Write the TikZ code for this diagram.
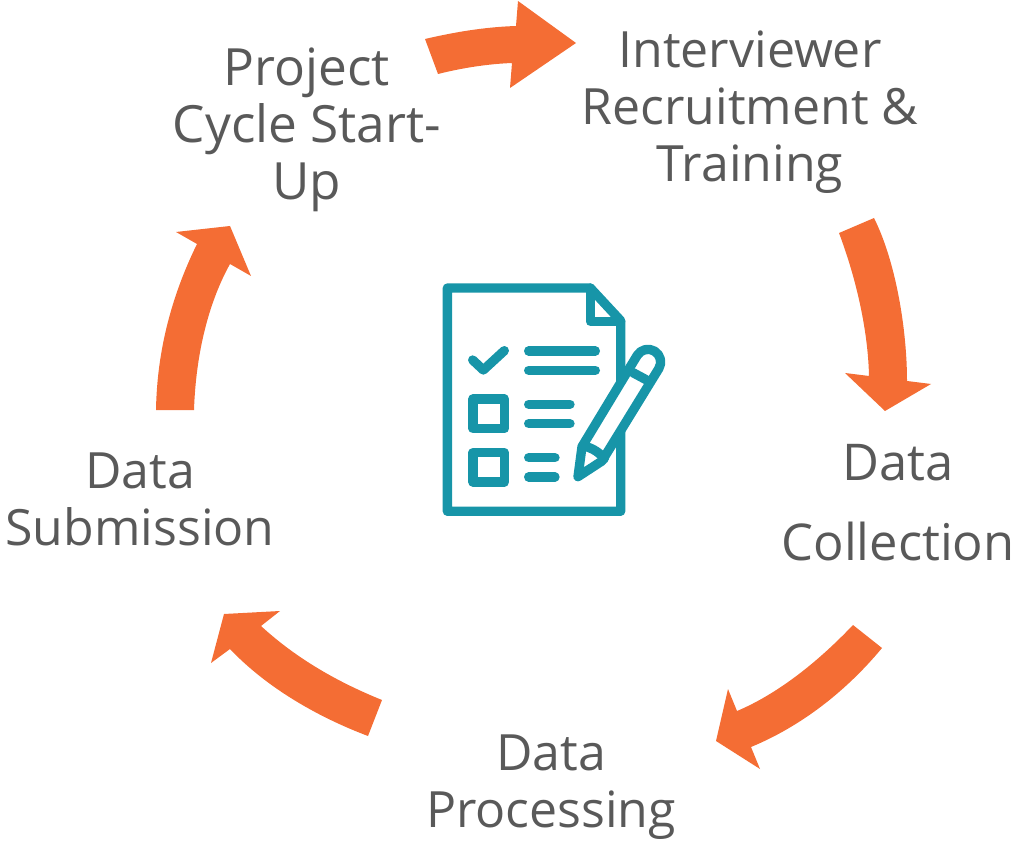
\documentclass[tikz,border=0pt]{standalone}
\usepackage{fontspec}
\setmainfont{Open Sans}
\usepackage{xcolor}
\definecolor{cyclearrow}{RGB}{244, 109, 52}
\definecolor{icon}{RGB}{23, 149, 168}
\definecolor{steptext}{RGB}{89, 89, 89}
\usepackage{tikz}
\tikzstyle{turn} = [fill=cyclearrow,draw=none]
\tikzstyle{steplabel} = [text=steptext,align=center,inner sep=0pt,font=\fontsize{37.5}{42.75}\selectfont]
\tikzstyle{stroke} = [draw=icon,line width=7pt,line cap=round,line join=round]

\begin{document}
\begin{tikzpicture}[x=0.75pt,y=-0.75pt]
    \useasboundingbox (0,0) rectangle (1017,841);
    \path[turn] (425,39) .. controls (455,32) and (485,27) .. (516,26) -- (518,1) -- (576,43) -- (510,88) -- (512,63) .. controls (487,64) and (462,68) .. (438,74) -- cycle;
    \path[turn] (874,218) .. controls (896,262) and (907,330) .. (907,381) -- (931,384) -- (885,411) -- (845,373) -- (869,376) .. controls (868,330) and (856,278) .. (839,233) -- cycle;
    \path[turn] (882,648) .. controls (843,695) and (797,728) .. (751,747) -- (760,769) -- (716,741) -- (728,689) -- (737,711) .. controls (775,695) and (815,665) .. (853,625) -- cycle;
    \path[turn] (368,736) .. controls (315,716) and (265,686) .. (230,649) -- (211,663) -- (224,614) -- (280,611) -- (261,626) .. controls (298,660) and (340,683) .. (382,700) -- cycle;
    \path[turn] (156,410) .. controls (157,350) and (172,295) .. (197,244) -- (176,232) -- (230,226) -- (251,276) -- (230,264) .. controls (210,300) and (196,350) .. (194,410) -- cycle;
    \node[steplabel,font=\fontsize{38.5}{42.75}\selectfont] (startup) at (307,130) {Project\\Cycle Start-\\Up};
    \node[steplabel] (training) at (750,112) {Interviewer\\Recruitment \&\\Training};
    \node[steplabel,font=\fontsize{38}{60}\selectfont] (collection) at (898,503) {Data\\Collection};
    \node[steplabel] (processing) at (551,787.5) {Data\\Processing};
    \node[steplabel] (submission) at (140,499) {Data\\Submission};
    \begin{scope}[shift={(420,270)},scale=1/3]
        \path[stroke] (511,54) -- (82,54) -- (82,724) -- (602,724) -- (602,152) -- cycle;
        \path[stroke] (511,54) -- (511,154) -- (602,154);
        \path[stroke] (158,270) -- (190,300) -- (253,242);
        \foreach \y in {243,301} {
            \path[stroke] (326,\y) -- (526,\y);
        }
        \foreach \y in {403,461} {
            \path[stroke] (326,\y) -- (450,\y);
        }
        \foreach \y in {563,621} {
            \path[stroke] (326,\y) -- (405,\y);
        }
        \path[stroke] (159,387) rectangle (253,476);
        \path[stroke] (159,548) rectangle (253,636);
        \path[stroke,fill=white] (474,620) -- (486,530) -- (651.5,256.3) arc[start angle=-148.8,end angle=31.2,radius=38] -- (546,573) -- cycle;
        \path[stroke] (639,308) -- (678,329);
        \path[stroke] (488,528) .. controls (507,530) and (535,543) .. (553,566);
    \end{scope}
\end{tikzpicture}
\end{document}
